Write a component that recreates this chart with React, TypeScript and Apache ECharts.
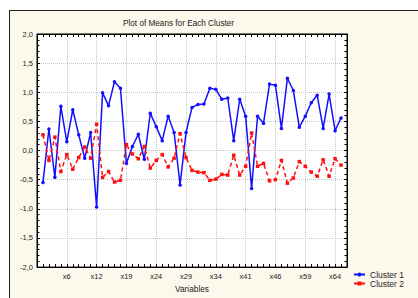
import React, { useEffect, useRef } from "react";
import * as echarts from "echarts";

// 51 variables, positions 1..51 on the x scale
const cluster1: number[] = [
  -0.55, 0.37, -0.46, 0.76, 0.15, 0.70, 0.27, -0.13, 0.31, -0.97,
  0.99, 0.77, 1.18, 1.07, -0.22, 0.07, 0.28, -0.15, 0.64, 0.41,
  0.17, 0.59, 0.31, -0.59, 0.31, 0.74, 0.79, 0.80, 1.07, 1.05,
  0.88, 0.90, 0.17, 0.88, 0.59, -0.65, 0.59, 0.47, 1.14, 1.12,
  0.38, 1.24, 1.03, 0.40, 0.59, 0.82, 0.95, 0.38, 0.97, 0.34, 0.56,
];
const cluster2: number[] = [
  0.27, -0.17, 0.23, -0.36, -0.07, -0.32, -0.12, 0.06, -0.13, 0.45,
  -0.46, -0.36, -0.54, -0.51, 0.10, -0.06, -0.14, 0.07, -0.30, -0.17,
  -0.07, -0.28, -0.13, 0.29, -0.12, -0.34, -0.37, -0.38, -0.51, -0.49,
  -0.41, -0.42, -0.08, -0.42, -0.27, 0.30, -0.27, -0.22, -0.52, -0.50,
  -0.17, -0.56, -0.47, -0.19, -0.27, -0.37, -0.44, -0.16, -0.44, -0.14, -0.25,
];
const labelPositions: number[] = [5, 10, 15, 20, 25, 30, 35, 40, 45, 50];
const tickLabels: string[] = ["x6", "x12", "x19", "x24", "x29", "x34", "x41", "x46", "x59", "x64"];
const seriesNames: string[] = ["Cluster 1", "Cluster 2"];

const FONT = "Liberation Sans, Arial, sans-serif";

export default function App() {
  const ref = useRef<HTMLDivElement>(null);
  useEffect(() => {
    if (!ref.current) return;
    const chart = echarts.init(ref.current, undefined, { renderer: "svg" });
    const labelMap: Record<number, string> = {};
    labelPositions.forEach((p, i) => (labelMap[p] = tickLabels[i]));
    const toXY = (arr: number[]) => arr.map((v, i) => [i + 1, v]);
    const tick = { show: true, inside: true, length: 3, lineStyle: { color: "#000", width: 1 } };
    const xBase = { type: "value", min: 0, max: 52, interval: 1, gridIndex: 0 };
    chart.setOption({
      animation: false,
      textStyle: { fontFamily: FONT },
      title: {
        text: "Plot of Means for Each Cluster",
        left: 123,
        top: 19,
        padding: 0,
        textStyle: { fontSize: 8.2, fontWeight: "normal", color: "#222", fontFamily: FONT },
      },
      grid: {
        left: 37,
        right: 71,
        top: 34,
        bottom: 29,
        show: true,
        backgroundColor: "#ffffff",
        borderColor: "#000",
        borderWidth: 1,
      },
      legend: {
        orient: "vertical",
        left: 353,
        top: 270,
        padding: 0,
        itemGap: 0,
        itemWidth: 11,
        itemHeight: 5,
        textStyle: { fontSize: 8.5, color: "#222", fontFamily: FONT },
        data: seriesNames,
      },
      xAxis: [
        {
          ...xBase,
          position: "bottom",
          name: "Variables",
          nameLocation: "middle",
          nameGap: 17,
          nameTextStyle: { fontSize: 8.3, color: "#222", fontFamily: FONT },
          axisLine: { show: true, onZero: false, lineStyle: { color: "#000" } },
          axisTick: tick,
          splitLine: { show: false },
          axisLabel: {
            show: true,
            margin: 5,
            fontSize: 7.5,
            color: "#222",
            fontFamily: FONT,
            formatter: (v: number) => labelMap[v] ?? "",
          },
        },
        {
          ...xBase,
          position: "top",
          axisLine: { show: true, onZero: false, lineStyle: { color: "#000" } },
          axisTick: tick,
          axisLabel: { show: false },
          splitLine: { show: false },
        },
        {
          type: "value",
          min: 0,
          max: 52,
          interval: 5,
          position: "bottom",
          axisLine: { show: false, onZero: false },
          axisTick: { show: false },
          axisLabel: { show: false },
          splitLine: { show: true, lineStyle: { color: "#c4c4c4", type: "dotted", width: 1 } },
        },
      ],
      yAxis: [
        {
          type: "value",
          min: -2,
          max: 2,
          interval: 0.5,
          position: "left",
          axisLine: { show: true, onZero: false, lineStyle: { color: "#000" } },
          axisTick: tick,
          minorTick: { show: true, splitNumber: 5, length: 2.5, lineStyle: { color: "#000" } },
          axisLabel: {
            margin: 4,
            fontSize: 7.5,
            color: "#222",
            fontFamily: FONT,
            formatter: (v: number) => v.toFixed(1).replace(".", ","),
          },
          splitLine: { show: true, lineStyle: { color: "#c4c4c4", type: "dotted", width: 1 } },
        },
        {
          type: "value",
          min: -2,
          max: 2,
          interval: 0.5,
          position: "right",
          axisLine: { show: true, onZero: false, lineStyle: { color: "#000" } },
          axisTick: tick,
          minorTick: { show: true, splitNumber: 5, length: 2.5, lineStyle: { color: "#000" } },
          axisLabel: { show: false },
          splitLine: { show: false },
        },
      ],
      series: [
        {
          name: seriesNames[0],
          type: "line",
          xAxisIndex: 0,
          yAxisIndex: 0,
          data: toXY(cluster1),
          symbol: "circle",
          symbolSize: 3.5,
          itemStyle: { color: "#1010ff" },
          lineStyle: { color: "#1010ff", width: 1.5 },
        },
        {
          name: seriesNames[1],
          type: "line",
          xAxisIndex: 0,
          yAxisIndex: 0,
          data: toXY(cluster2),
          symbol: "rect",
          symbolSize: 3.5,
          itemStyle: { color: "#ff1010" },
          lineStyle: { color: "#ff1010", width: 1.5, type: [4, 3] },
        },
      ],
    });
    return () => chart.dispose();
  }, []);
  return (
    <div style={{ position: "fixed", left: 0, top: 0, width: 418, height: 298, background: "#fff" }}>
      <div
        style={{
          position: "absolute",
          left: 9,
          top: 10,
          width: 409,
          height: 288,
          background: "#fdf8ec",
          borderLeft: "1.5px solid #222",
          borderTop: "1.5px solid #222",
          boxSizing: "border-box",
        }}
      />
      <div ref={ref} style={{ position: "absolute", left: 0, top: 0, width: 418, height: 298 }} />
    </div>
  );
}
